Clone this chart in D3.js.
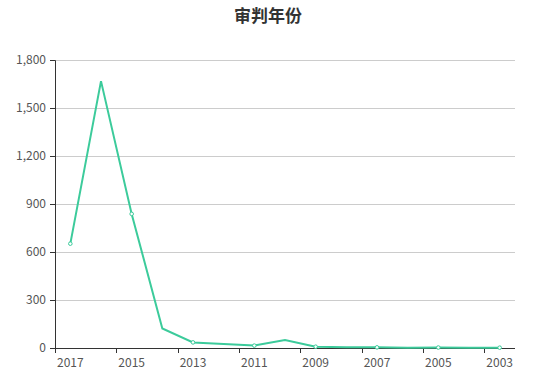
<!DOCTYPE html>
<html>
<head>
<meta charset="utf-8">
<script src="https://cdn.jsdelivr.net/npm/d3@7"></script>
<style>
  body { margin: 0; background: #fff; }
  .chart { width: 537px; height: 380px; }
  text { font-family: "Microsoft YaHei", "Noto Sans CJK SC", sans-serif; }
</style>
</head>
<body>
<div class="chart"></div>
<script>
// data
var title = "审判年份";
var years = ["2017", "2016", "2015", "2014", "2013", "2012", "2011", "2010",
             "2009", "2008", "2007", "2006", "2005", "2004", "2003"];
var counts = [652, 1668, 838, 122, 35, 25, 15, 50, 8, 5, 4, 2, 3, 1, 2];
var yTicks = [0, 300, 600, 900, 1200, 1500, 1800];

var margin = { top: 60, right: 22, bottom: 32, left: 55 };
var width = 537 - margin.left - margin.right;
var height = 380 - margin.top - margin.bottom;
var lineColor = "#3ccb9b";

var svg = d3.select(".chart").append("svg")
    .attr("width", 537)
    .attr("height", 380);

svg.append("text")
    .attr("x", 268)
    .attr("y", 22)
    .attr("text-anchor", "middle")
    .attr("font-size", 17)
    .attr("font-weight", "bold")
    .attr("fill", "#333")
    .text(title);

var g = svg.append("g")
    .attr("transform", "translate(" + margin.left + "," + margin.top + ")");

var xScale = d3.scaleBand().domain(years).range([0, width]);
var yScale = d3.scaleLinear().domain([0, 1800]).range([height, 0]);

// grid lines
g.selectAll(".grid")
    .data(yTicks.slice(1))
    .enter().append("line")
    .attr("x1", 0)
    .attr("x2", width)
    .attr("y1", function(d) { return yScale(d); })
    .attr("y2", function(d) { return yScale(d); })
    .attr("stroke", "#ccc")
    .attr("stroke-width", 1)
    .attr("shape-rendering", "crispEdges");

// y axis
var yAxis = g.append("g")
    .call(d3.axisLeft(yScale).tickValues(yTicks).tickSize(5).tickPadding(4)
        .tickFormat(d3.format(",")));
yAxis.selectAll("text").attr("font-size", 12).attr("fill", "#555");
yAxis.selectAll("line").attr("stroke", "#333");
yAxis.select(".domain").attr("stroke", "#333");

// x axis: ticks on band boundaries, every other label
var xAxis = g.append("g")
    .attr("transform", "translate(0," + height + ")");
xAxis.append("line")
    .attr("x1", 0).attr("x2", width)
    .attr("stroke", "#333")
    .attr("shape-rendering", "crispEdges");
var bounds = d3.range(0, years.length + 1, 2);
xAxis.selectAll(".tick")
    .data(bounds)
    .enter().append("line")
    .attr("x1", function(i) { return Math.round(i * xScale.bandwidth()) + 0.5; })
    .attr("x2", function(i) { return Math.round(i * xScale.bandwidth()) + 0.5; })
    .attr("y1", 0)
    .attr("y2", 5)
    .attr("stroke", "#333");
xAxis.selectAll(".lbl")
    .data(years.filter(function(d, i) { return i % 2 === 0; }))
    .enter().append("text")
    .attr("x", function(d) { return xScale(d) + xScale.bandwidth() / 2; })
    .attr("y", 19)
    .attr("text-anchor", "middle")
    .attr("font-size", 12)
    .attr("fill", "#555")
    .text(function(d) { return d; });

// the line
var line = d3.line()
    .x(function(d, i) { return xScale(years[i]) + xScale.bandwidth() / 2; })
    .y(function(d) { return yScale(d); });

g.append("path")
    .datum(counts)
    .attr("fill", "none")
    .attr("stroke", lineColor)
    .attr("stroke-width", 2)
    .attr("d", line);

// symbols only on labelled years
g.selectAll(".dot")
    .data(counts.map(function(v, i) { return { v: v, i: i }; })
        .filter(function(d) { return d.i % 2 === 0; }))
    .enter().append("circle")
    .attr("cx", function(d) { return xScale(years[d.i]) + xScale.bandwidth() / 2; })
    .attr("cy", function(d) { return yScale(d.v); })
    .attr("r", 1.8)
    .attr("fill", "#fff")
    .attr("stroke", lineColor)
    .attr("stroke-width", 1);
</script>
</body>
</html>
